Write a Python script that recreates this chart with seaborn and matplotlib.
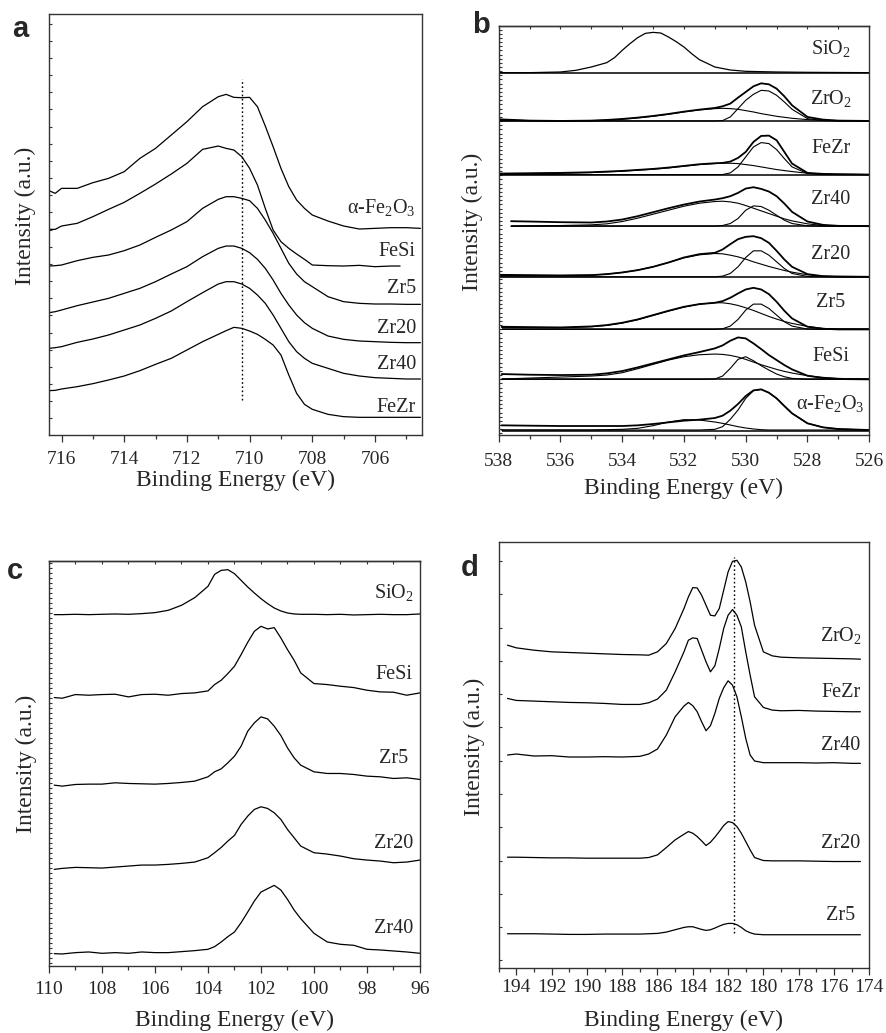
import matplotlib
matplotlib.use('Agg')
import numpy as np
import matplotlib.pyplot as plt
import seaborn as sns
from matplotlib.ticker import MultipleLocator, FixedLocator, NullFormatter

# ---------------- panel a : Fe 2p ----------------
a_energy = [716.4, 716.2, 716.0, 715.5, 715.0, 714.5, 714.0, 713.5, 713.0, 712.5, 712.0, 711.5,
            711.0, 710.75, 710.5, 710.25, 710.0, 709.75, 709.5, 709.25, 709.0, 708.75, 708.5,
            708.25, 708.0, 707.5, 707.0, 706.5, 706.0, 705.5, 705.0, 704.55]
a_energy_fesi = a_energy[:30] + [705.2]
a_fe2o3 = [733, 725, 740, 740, 757, 770, 790, 830, 860, 900, 940, 985, 1015, 1022, 1013, 1012,
           1013, 985, 927, 865, 800, 745, 705, 680, 660, 642, 627, 618, 620, 622, 622, 620]
a_fesi = [617, 617, 627, 635, 655, 677, 698, 725, 753, 783, 815, 857, 867, 860, 855, 835,
          800, 750, 680, 615, 580, 560, 543, 527, 510, 508, 507, 509, 505, 507, 507]
a_zr5 = [507, 508, 510, 523, 533, 540, 553, 570, 593, 615, 640, 680, 707, 715, 715, 710,
         703, 680, 645, 605, 560, 515, 483, 460, 445, 415, 400, 395, 393, 393, 392, 392]
a_zr20 = [367, 370, 375, 388, 399, 410, 425, 440, 460, 483, 505, 535, 560, 567, 567, 560,
          547, 527, 500, 465, 425, 390, 360, 337, 320, 297, 287, 282, 280, 278, 277, 277]
a_zr40 = [260, 262, 265, 278, 288, 300, 315, 330, 350, 372, 400, 427, 453, 460, 460, 453,
          440, 420, 395, 360, 320, 280, 250, 230, 215, 200, 185, 177, 172, 170, 168, 168]
a_fezr = [133, 134, 138, 145, 154, 165, 177, 193, 212, 230, 255, 280, 302, 313, 323, 320,
          312, 302, 287, 270, 240, 180, 125, 92, 77, 62, 55, 53, 53, 53, 53, 53]
a_labels = ['α-Fe$_\\mathregular{2}$O$_\\mathregular{3}$', 'FeSi', 'Zr5', 'Zr20', 'Zr40', 'FeZr']
a_label_y = [665, 537, 425, 305, 197, 70]
a_ref_line = 710.25

# ---------------- panel b : O 1s with fitted components ----------------
b_energy = [538, 537, 536, 535, 534.5, 534, 533.5, 533, 532.5, 532, 531.5, 531, 530.75, 530.5,
            530.25, 530, 529.75, 529.5, 529.25, 529, 528.75, 528.5, 528, 527.5, 527, 526]
b_energy_zr40 = [537.6] + b_energy[1:]
b_energy_late = [537.9] + b_energy[1:]
b_sio2_energy = [538, 537, 536, 535.5, 535, 534.5, 534.25, 534, 533.75, 533.5, 533.25, 533,
                 532.75, 532.5, 532.25, 532, 531.75, 531.5, 531, 530.5, 530, 529, 528, 526]
b_sio2 = [1088, 1088, 1090, 1095, 1105, 1118, 1133, 1155, 1175, 1193, 1206, 1209,
          1207, 1195, 1181, 1165, 1145, 1127, 1105, 1096, 1092, 1090, 1089, 1088]

b_zro2_env = [948, 944, 943, 944, 946, 949, 953, 958, 964, 971, 977, 982, 987, 995, 1013, 1030,
              1047, 1056, 1053, 1040, 1017, 990, 955, 947, 944, 943]
b_zro2_c1 = [946, 944, 943, 944, 945, 948, 952, 957, 963, 970, 976, 980, 981, 980, 978, 974,
             970, 965, 961, 957, 954, 951, 947, 945, 944, 943]
b_zro2_c2 = [943, 943, 943, 943, 943, 943, 943, 943, 943, 943, 943, 943, 944, 955, 980, 1005,
             1023, 1035, 1033, 1020, 1000, 978, 950, 944, 943, 943]

b_fezr_env = [785, 786, 787, 789, 791, 793, 796, 799, 803, 808, 813, 816, 817, 821, 832, 850,
              880, 898, 899, 885, 850, 815, 787, 784, 783, 782]
b_fezr_c1 = [784, 785, 786, 788, 790, 792, 795, 798, 802, 807, 812, 815, 816, 816, 815, 812,
             809, 805, 801, 797, 794, 791, 786, 784, 783, 782]
b_fezr_c2 = [782, 782, 782, 782, 782, 782, 782, 782, 782, 782, 782, 782, 782, 787, 805, 835,
             865, 878, 875, 857, 830, 805, 785, 782, 782, 782]

b_zr40_env = [642, 641, 639, 638, 641, 647, 657, 669, 681, 692, 701, 707, 711, 717, 727, 740,
              744, 739, 731, 717, 695, 670, 641, 631, 628, 627]
b_zr40_c1 = [627, 628, 629, 631, 634, 641, 651, 663, 675, 687, 696, 701, 702, 700, 696, 689,
             681, 673, 665, 657, 649, 643, 634, 629, 627, 627]
b_zr40_c2 = [627, 627, 627, 627, 627, 627, 627, 627, 627, 627, 627, 627, 629, 635, 650, 675,
             688, 686, 675, 660, 645, 635, 628, 627, 627, 627]

b_zr20_env = [481, 480, 479, 480, 483, 488, 495, 505, 518, 533, 543, 547, 557, 573, 588, 595,
              597, 591, 577, 553, 527, 505, 483, 477, 476, 475]
b_zr20_c1 = [479, 479, 479, 480, 483, 488, 495, 505, 518, 532, 541, 545, 544, 540, 535, 528,
             520, 513, 506, 500, 494, 489, 481, 477, 475, 475]
b_zr20_c2 = [475, 475, 475, 475, 475, 475, 475, 475, 475, 475, 475, 475, 477, 485, 505, 533,
             553, 553, 540, 520, 500, 485, 476, 475, 475, 475]

b_zr5_env = [325, 324, 323, 326, 330, 337, 347, 360, 373, 385, 393, 397, 402, 412, 425, 437,
             442, 437, 423, 400, 373, 350, 325, 319, 317, 317]
b_zr5_c1 = [323, 322, 322, 325, 329, 336, 346, 359, 372, 384, 393, 397, 397, 394, 389, 382,
            374, 365, 356, 348, 341, 335, 326, 320, 318, 317]
b_zr5_c2 = [317, 317, 317, 317, 317, 317, 317, 317, 317, 317, 317, 317, 319, 327, 347, 375,
            393, 393, 380, 360, 340, 327, 318, 317, 317, 317]

b_fesi_env = [183, 181, 180, 181, 185, 192, 203, 215, 227, 239, 249, 260, 269, 283, 293, 290,
              275, 258, 240, 225, 210, 197, 178, 171, 168, 167]
b_fesi_c1 = [168, 171, 174, 177, 180, 187, 199, 212, 225, 235, 241, 243, 242, 239, 234, 227,
             219, 211, 204, 197, 191, 186, 178, 173, 170, 167]
b_fesi_c2 = [167, 167, 167, 167, 167, 167, 167, 167, 167, 167, 167, 168, 177, 200, 227, 235,
             223, 208, 195, 183, 175, 170, 167, 167, 167, 167]

b_fe2o3_env = [29, 28, 27, 27, 27, 27, 29, 33, 38, 43, 46, 51, 58, 73, 93, 117,
               134, 137, 127, 110, 87, 65, 35, 23, 18, 15]
b_fe2o3_c1 = [15, 15, 15, 15, 16, 17, 20, 28, 39, 46, 45, 39, 35, 30, 25, 21,
              18, 16, 15, 15, 15, 15, 15, 15, 15, 15]
b_fe2o3_c2 = [15, 15, 15, 15, 15, 15, 15, 15, 15, 15, 15, 17, 25, 47, 75, 110,
              133, 137, 127, 110, 87, 65, 35, 23, 18, 15]

b_baselines = [1088, 943, 782, 627, 475, 317, 167, 13]
b_labels = ['SiO$_\\mathregular{2}$', 'ZrO$_\\mathregular{2}$', 'FeZr', 'Zr40', 'Zr20', 'Zr5',
            'FeSi', 'α-Fe$_\\mathregular{2}$O$_\\mathregular{3}$']
b_label_y = [1143, 993, 847, 695, 527, 383, 222, 77]

# ---------------- panel c : Si 2p ----------------
c_energy = [109.8, 109.5, 109.0, 108.5, 108.0, 107.5, 107.0, 106.5, 106.0, 105.5, 105.0, 104.5,
            104.0, 103.75, 103.5, 103.25, 103.0, 102.75, 102.5, 102.25, 102.0, 101.75, 101.5,
            101.25, 101.0, 100.75, 100.5, 100.0, 99.5, 99.0, 98.5, 98.0, 97.5, 97.0, 96.5, 96.0]
c_sio2 = [1055, 1055, 1056, 1055, 1056, 1057, 1056, 1058, 1061, 1068, 1083, 1106, 1140, 1176,
          1188, 1190, 1178, 1158, 1138, 1120, 1103, 1088, 1075, 1066, 1060, 1057, 1056, 1056,
          1055, 1056, 1054, 1055, 1056, 1055, 1055, 1057]
c_fesi = [806, 804, 815, 813, 815, 816, 808, 815, 816, 813, 818, 820, 826, 845, 858, 878, 900,
          935, 972, 1005, 1020, 1012, 1016, 985, 950, 918, 880, 848, 845, 840, 836, 828, 823,
          822, 813, 820]
c_zr5 = [543, 540, 545, 546, 546, 550, 548, 547, 546, 548, 551, 555, 568, 583, 592, 610, 630,
         660, 705, 730, 748, 742, 720, 692, 655, 625, 603, 583, 578, 578, 575, 570, 568, 563,
         565, 560]
c_zr20 = [290, 293, 296, 295, 294, 297, 300, 303, 303, 305, 308, 312, 325, 340, 356, 375, 392,
          425, 450, 470, 478, 473, 460, 440, 410, 385, 360, 340, 336, 330, 322, 318, 315, 310,
          312, 318]
c_zr40 = [37, 36, 40, 42, 38, 40, 38, 42, 40, 40, 43, 46, 50, 58, 72, 88, 102, 130, 162, 195,
          222, 232, 242, 228, 200, 168, 142, 98, 72, 65, 62, 50, 48, 45, 42, 38]
c_labels = ['SiO$_\\mathregular{2}$', 'FeSi', 'Zr5', 'Zr20', 'Zr40']
c_label_y = [1103, 863, 608, 353, 98]

# ---------------- panel d : Zr 3d ----------------
d_energy = [194.5, 194, 193, 192, 191, 190, 189, 188, 187, 186.5, 186, 185.5, 185, 184.5,
            184.25, 184, 183.75, 183.5, 183.25, 183, 182.75, 182.5, 182.25, 182, 181.75, 181.5,
            181.25, 181, 180.75, 180.5, 180, 179.5, 179, 178, 177, 176, 175, 174.5]
d_zro2 = [970, 962, 955, 950, 948, 946, 944, 942, 941, 940, 950, 975, 1020, 1080, 1115, 1143,
          1142, 1120, 1090, 1060, 1058, 1080, 1135, 1190, 1222, 1225, 1205, 1160, 1100, 1030,
          950, 938, 934, 932, 931, 930, 929, 928]
d_fezr = [810, 804, 802, 800, 798, 797, 795, 792, 792, 797, 808, 835, 890, 950, 985, 992, 990,
          955, 920, 890, 908, 960, 1020, 1060, 1077, 1060, 1025, 950, 880, 815, 783, 775, 773,
          774, 772, 771, 770, 770]
d_zr40 = [640, 643, 637, 638, 634, 634, 635, 634, 636, 643, 658, 700, 755, 787, 798, 788, 770,
          740, 713, 728, 765, 810, 842, 863, 850, 815, 755, 690, 640, 622, 617, 617, 617, 617,
          616, 617, 615, 615]
d_zr20 = [333, 333, 332, 331, 331, 330, 330, 330, 330, 332, 340, 362, 385, 402, 410, 405, 395,
          382, 368, 378, 393, 410, 428, 440, 437, 425, 405, 380, 355, 332, 323, 322, 322, 322,
          321, 320, 320, 320]
d_zr5 = [103, 103, 103, 102, 101, 101, 102, 102, 102, 103, 104, 108, 115, 122, 124, 124, 120,
         116, 113, 115, 120, 126, 131, 134, 134, 130, 122, 112, 106, 102, 100, 100, 100, 100,
         100, 100, 100, 100]
d_labels = ['ZrO$_\\mathregular{2}$', 'FeZr', 'Zr40', 'Zr20', 'Zr5']
d_label_y = [980, 815, 655, 360, 145]
d_ref_line = 181.65

# ---------------- style ----------------
sns.set_style('ticks')
plt.rcParams['font.family'] = ['Liberation Serif', 'DejaVu Serif']
plt.rcParams['mathtext.fontset'] = 'custom'
plt.rcParams['mathtext.rm'] = 'Liberation Serif'
plt.rcParams['axes.edgecolor'] = '#333333'
plt.rcParams['axes.linewidth'] = 1.0

LW = 0.9
TXT = 14.5

fig = plt.figure(figsize=(8.87, 10.33), dpi=100)
ax_a = fig.add_axes([0.0552, 0.5789, 0.4206, 0.4075])
ax_b = fig.add_axes([0.5622, 0.5789, 0.4178, 0.3959])
ax_c = fig.add_axes([0.0552, 0.0649, 0.4183, 0.3920])
ax_d = fig.add_axes([0.5622, 0.0629, 0.4178, 0.4124])


def curve(ax, x, y, lw=LW):
    sns.lineplot(x=x, y=y, ax=ax, color='black', lw=lw, sort=False)


def style_axis(ax, xlim, ylim, yticks, xlab_y, ylab_x, ylab_y, pad, top_ticks=False):
    ax.set_xlim(*xlim)
    ax.set_ylim(*ylim)
    ax.xaxis.set_major_locator(MultipleLocator(2))
    ax.xaxis.set_minor_locator(MultipleLocator(1))
    ax.yaxis.set_major_locator(FixedLocator(yticks))
    ax.yaxis.set_major_formatter(NullFormatter())
    ax.tick_params(axis='x', which='major', direction='out', length=5, width=0.9,
                   color='#333333', labelsize=14, pad=pad)
    ax.tick_params(axis='x', which='minor', direction='out', length=3, width=0.9, color='#333333')
    ax.tick_params(axis='y', which='major', direction='in', length=2.5, width=0.8,
                   color='#333333', left=True)
    ax.set_xlabel('Binding Energy (eV)', fontsize=17)
    ax.set_ylabel('Intensity (a.u.)', fontsize=17)
    ax.xaxis.set_label_coords(0.5, xlab_y)
    ax.xaxis.label.set_va('top')
    ax.yaxis.set_label_coords(ylab_x, ylab_y)
    if top_ticks:
        sec = ax.secondary_xaxis('top')
        sec.xaxis.set_major_locator(MultipleLocator(1))
        sec.tick_params(direction='in', length=2, width=0.8, color='#333333', labeltop=False)
        sec.set_xticklabels([])
    for sp in ax.spines.values():
        sp.set_visible(True)


# ---- a ----
for series, en in [(a_fe2o3, a_energy), (a_fesi, a_energy_fesi), (a_zr5, a_energy),
                   (a_zr20, a_energy), (a_zr40, a_energy), (a_fezr, a_energy)]:
    curve(ax_a, en, series)
ax_a.vlines(a_ref_line, 105, 1068, colors='black', linestyles=(0, (1.2, 1.8)), lw=1.0)
for lab, yy in zip(a_labels, a_label_y):
    ax_a.text(704.7, yy, lab, ha='right', va='baseline', fontsize=TXT)
style_axis(ax_a, (716.4, 704.5), (0, 1263), np.arange(50, 1263, 51.5), -0.083, -0.035, 0.52, 6.5)

# ---- b ----
curve(ax_b, b_sio2_energy, b_sio2)
b_sets = [(b_energy, b_zro2_env, b_zro2_c1, b_zro2_c2),
          (b_energy, b_fezr_env, b_fezr_c1, b_fezr_c2),
          (b_energy_zr40, b_zr40_env, b_zr40_c1, b_zr40_c2),
          (b_energy, b_zr20_env, b_zr20_c1, b_zr20_c2),
          (b_energy_late, b_zr5_env, b_zr5_c1, b_zr5_c2),
          (b_energy_late, b_fesi_env, b_fesi_c1, b_fesi_c2),
          (b_energy_late, b_fe2o3_env, b_fe2o3_c1, b_fe2o3_c2)]
for en, env, c1, c2 in b_sets:
    curve(ax_b, en, env, lw=1.3)
    curve(ax_b, en, c1, lw=0.8)
    curve(ax_b, en, c2, lw=0.8)
starts = [538, 538, 538, 537.6, 538, 537.9, 537.9, 537.9]
for base, st in zip(b_baselines, starts):
    ax_b.hlines(base, st, 526, colors='black', lw=1.1)
for lab, yy in zip(b_labels, b_label_y):
    ax_b.text(527.25, yy, lab, ha='center', va='baseline', fontsize=TXT)
style_axis(ax_b, (538, 526), (0, 1228), np.arange(5, 1228, 12.5), -0.105, -0.042, 0.52, 8,
           top_ticks=True)

# ---- c ----
for series in [c_sio2, c_fesi, c_zr5, c_zr20, c_zr40]:
    curve(ax_c, c_energy, series)
for lab, yy in zip(c_labels, c_label_y):
    ax_c.text(97.0, yy, lab, ha='center', va='baseline', fontsize=TXT)
style_axis(ax_c, (110, 96), (0, 1216), np.arange(10, 1216, 15), -0.109, -0.032, 0.5, 6,
           top_ticks=True)

# ---- d ----
for series in [d_zro2, d_fezr, d_zr40, d_zr20, d_zr5]:
    curve(ax_d, d_energy, series)
ax_d.vlines(d_ref_line, 105, 1235, colors='black', linestyles=(0, (1.2, 1.8)), lw=1.0)
for lab, yy in zip(d_labels, d_label_y):
    ax_d.text(175.6, yy, lab, ha='center', va='baseline', fontsize=TXT)
style_axis(ax_d, (195, 174), (0, 1280), np.arange(23, 1280, 100), -0.099, -0.037, 0.52, 3)

# panel letters
for letter, (fx, fy) in zip('abcd', [(0.0225, 0.972), (0.542, 0.976), (0.017, 0.447), (0.530, 0.450)]):
    fig.text(fx, fy, letter, fontsize=21, fontweight='bold', family='Liberation Sans',
             ha='center', va='center')

fig.savefig('out.png', dpi=100)
